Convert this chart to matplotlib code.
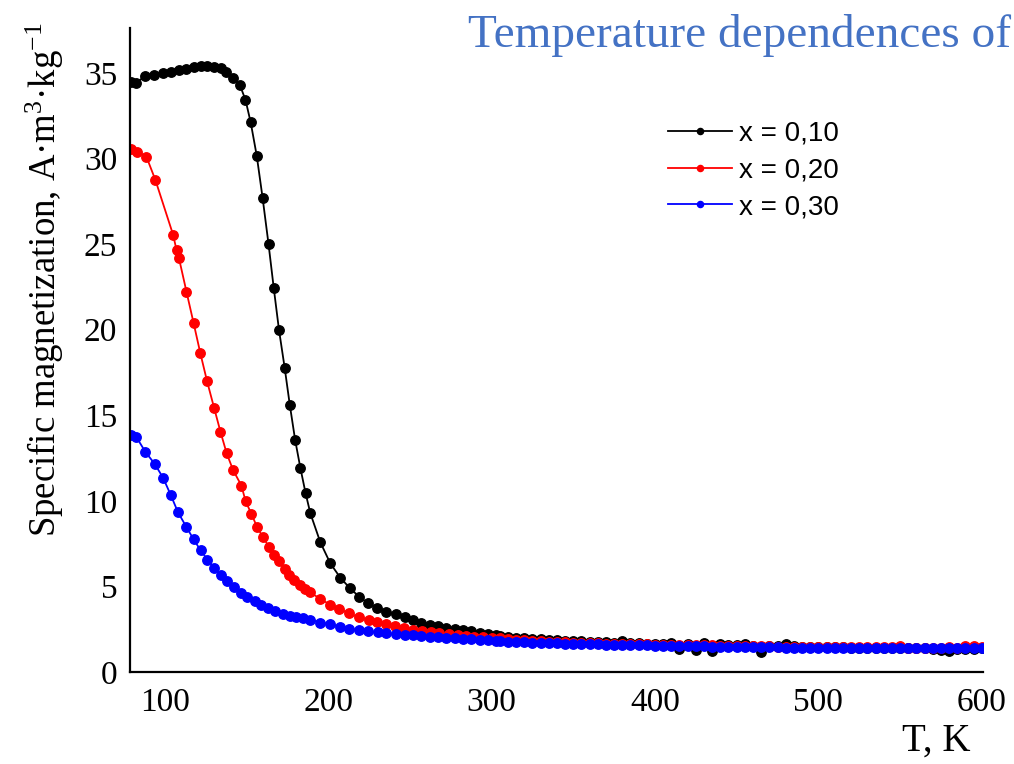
import matplotlib
matplotlib.use("Agg")
import matplotlib.pyplot as plt

plt.rcParams["mathtext.fontset"] = "custom"
plt.rcParams["mathtext.rm"] = "Liberation Serif"
plt.rcParams["mathtext.it"] = "Liberation Serif:italic"

# ── data (T in K, sigma in A·m3/kg) ──
T_010 = [79.6, 82.7, 88.2, 93.5, 99.0, 104.1, 108.6, 113.3, 117.7, 122.0,
         126.1, 130.2, 134.3, 137.7, 141.8, 145.9, 149.4, 152.6, 156.3, 159.9,
         163.5, 166.7, 169.9, 173.4, 176.5, 179.8, 183.0, 186.2, 189.1, 195.2,
         201.3, 207.5, 213.1, 218.8, 224.3, 229.8, 235.6, 241.3, 246.8, 251.9,
         257.0, 262.1, 267.2, 272.3, 277.4, 282.4, 287.6, 292.7, 297.7, 302.9]
M_010 = [34.49, 34.43, 34.82, 34.88, 35.01, 35.06, 35.17, 35.21, 35.31, 35.41,
         35.41, 35.35, 35.27, 35.06, 34.72, 34.30, 33.42, 32.10, 30.15, 27.68,
         25.00, 22.43, 19.99, 17.76, 15.62, 13.55, 11.92, 10.44, 9.27, 7.58,
         6.35, 5.50, 4.92, 4.41, 4.02, 3.75, 3.53, 3.36, 3.20, 3.05,
         2.89, 2.77, 2.66, 2.58, 2.52, 2.46, 2.38, 2.30, 2.22, 2.14]

T_020 = [79.6, 83.3, 88.8, 94.3, 105.1, 107.2, 108.6, 113.3, 117.7, 121.8,
         125.9, 130.2, 134.1, 137.9, 141.8, 146.9, 149.5, 153.0, 156.4, 160.1,
         163.7, 166.6, 169.8, 173.3, 176.3, 179.4, 183.0, 186.1, 189.0, 195.1,
         201.2, 206.9, 212.6, 218.7, 224.8, 230.0, 235.5, 241.2, 246.7, 252.2,
         257.5, 263.0, 268.1, 273.8, 279.3, 284.4, 289.5, 295.0, 300.0]
M_020 = [30.54, 30.40, 30.09, 28.73, 25.54, 24.65, 24.21, 22.21, 20.36, 18.61,
         16.98, 15.43, 14.03, 12.77, 11.80, 10.89, 9.97, 9.24, 8.49, 7.87,
         7.33, 6.86, 6.47, 6.03, 5.69, 5.38, 5.09, 4.85, 4.66, 4.27,
         3.94, 3.69, 3.43, 3.20, 3.05, 2.91, 2.78, 2.66, 2.56, 2.47,
         2.39, 2.33, 2.27, 2.23, 2.17, 2.11, 2.07, 2.03, 2.00]

T_030 = [79.6, 82.7, 88.2, 93.9, 99.0, 103.7, 108.1, 113.3, 117.7, 122.0,
         126.1, 130.2, 134.7, 138.3, 142.2, 146.5, 150.6, 155.0, 159.1, 163.2,
         167.7, 172.4, 176.5, 180.5, 184.5, 189.0, 195.2, 201.3, 207.0, 212.7,
         218.8, 224.3, 230.4, 235.6, 241.3, 246.8, 251.9, 257.0, 262.1, 267.2,
         272.3, 277.4, 282.4, 287.6, 292.7, 297.7, 302.9]
M_030 = [13.83, 13.71, 12.85, 12.15, 11.34, 10.33, 9.33, 8.46, 7.74, 7.10,
         6.57, 6.09, 5.66, 5.31, 4.96, 4.63, 4.38, 4.14, 3.89, 3.72,
         3.56, 3.40, 3.30, 3.22, 3.17, 3.06, 2.89, 2.80, 2.64, 2.54,
         2.45, 2.37, 2.31, 2.26, 2.22, 2.18, 2.14, 2.10, 2.06, 2.02,
         1.98, 1.96, 1.93, 1.91, 1.87, 1.85, 1.81]

# high-temperature tail, common 5 K grid
T_TAIL = [305, 310, 315, 320, 325, 330, 335, 340, 345, 350,
          355, 360, 365, 370, 375, 380, 385, 390, 395, 400,
          405, 410, 415, 420, 425, 430, 435, 440, 445, 450,
          455, 460, 465, 470, 475, 480, 485, 490, 495, 500,
          505, 510, 515, 520, 525, 530, 535, 540, 545, 550,
          555, 560, 565, 570, 575, 580, 585, 590, 595, 600]
TAIL_010 = [2.08, 2.04, 2.00, 1.97, 1.94, 1.91, 1.88, 1.85, 1.83, 1.81,
            1.79, 1.77, 1.75, 1.73, 1.71, 1.80, 1.69, 1.67, 1.66, 1.64,
            1.63, 1.72, 1.33, 1.62, 1.29, 1.70, 1.21, 1.66, 1.56, 1.55,
            1.65, 1.54, 1.16, 1.53, 1.52, 1.65, 1.50, 1.49, 1.48, 1.47,
            1.46, 1.45, 1.44, 1.43, 1.42, 1.42, 1.41, 1.40, 1.40, 1.39,
            1.39, 1.38, 1.38, 1.37, 1.30, 1.22, 1.37, 1.36, 1.36, 1.38]
TAIL_020 = [1.96, 1.92, 1.89, 1.86, 1.83, 1.80, 1.78, 1.76, 1.74, 1.72,
            1.70, 1.69, 1.68, 1.66, 1.65, 1.64, 1.63, 1.62, 1.61, 1.60,
            1.59, 1.58, 1.57, 1.57, 1.56, 1.55, 1.55, 1.54, 1.53, 1.52,
            1.52, 1.51, 1.50, 1.50, 1.49, 1.49, 1.48, 1.48, 1.47, 1.47,
            1.46, 1.46, 1.45, 1.45, 1.45, 1.44, 1.44, 1.44, 1.48, 1.50,
            1.43, 1.43, 1.42, 1.42, 1.42, 1.44, 1.42, 1.50, 1.50, 1.48]
TAIL_030 = [1.80, 1.78, 1.76, 1.74, 1.72, 1.70, 1.69, 1.67, 1.66, 1.64,
            1.63, 1.62, 1.61, 1.60, 1.59, 1.58, 1.57, 1.56, 1.55, 1.54,
            1.53, 1.53, 1.52, 1.51, 1.51, 1.50, 1.49, 1.49, 1.48, 1.47,
            1.46, 1.45, 1.45, 1.44, 1.44, 1.43, 1.43, 1.42, 1.42, 1.42,
            1.41, 1.41, 1.41, 1.40, 1.40, 1.40, 1.40, 1.39, 1.39, 1.39,
            1.39, 1.39, 1.38, 1.38, 1.38, 1.38, 1.38, 1.38, 1.38, 1.40]

LABELS = ["x = 0,10", "x = 0,20", "x = 0,30"]
COLORS = ["black", "#ff0000", "#0000ff"]
X_TICKS = [100, 200, 300, 400, 500, 600]
Y_TICKS = [0, 5, 10, 15, 20, 25, 30, 35]

series = [
    (T_010 + T_TAIL, M_010 + TAIL_010),
    (T_020 + T_TAIL, M_020 + TAIL_020),
    (T_030 + T_TAIL, M_030 + TAIL_030),
]

fig = plt.figure(figsize=(10.14, 7.64), dpi=100)
ax = fig.add_axes([0.128, 0.1204, 0.841, 0.8426])

for (t, m), lab, col in zip(series, LABELS, COLORS):
    ax.plot(t, m, "-o", color=col, lw=1.3, ms=6.8, label=lab)

ax.set_xlim(78.6, 600.5)
ax.set_ylim(0, 37.6)
ax.set_xticks(X_TICKS)
ax.set_yticks(Y_TICKS)
ax.tick_params(length=0, labelsize=24, labelfontfamily="Liberation Serif")
ax.tick_params(axis="x", pad=11)
ax.tick_params(axis="y", pad=9)
for side in ["top", "right"]:
    ax.spines[side].set_visible(False)
for side in ["left", "bottom"]:
    ax.spines[side].set_linewidth(1.6)

leg = ax.legend(loc="upper left", bbox_to_anchor=(668 / 1014, 1 - 121 / 764),
                bbox_transform=fig.transFigure, frameon=False,
                prop={"family": "Liberation Sans", "size": 20},
                handlelength=2.3, handletextpad=0.25, labelspacing=0.38,
                borderpad=0, borderaxespad=0, markerscale=0.65)

fig.text(45 / 1014, 1 - 280 / 764,
         r"Specific magnetization, A·m$^{3}$·kg$^{-1}$",
         rotation=90, ha="center", va="center", fontsize=26.5,
         family="Liberation Serif")
fig.text(970 / 1014, 1 - 760 / 764, "T, K", ha="right", va="bottom",
         fontsize=28, family="Liberation Serif")
fig.text(468 / 1014, 1 - 47 / 764, "Temperature dependences of",
         ha="left", va="baseline", fontsize=34, color="#4472c4",
         family="Liberation Serif")

fig.savefig("out.png", dpi=100)
